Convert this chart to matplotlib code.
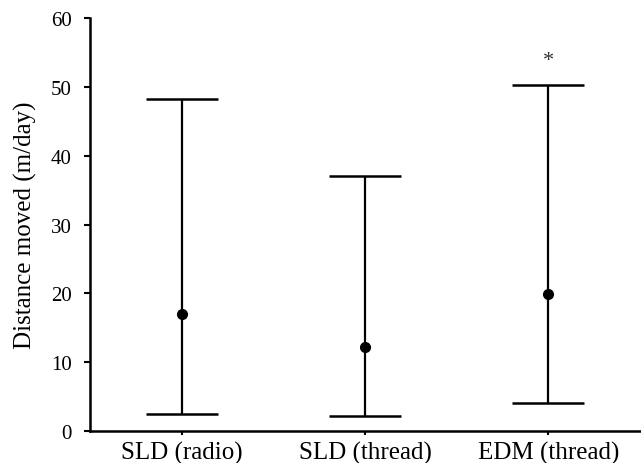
import matplotlib
matplotlib.use("Agg")
import matplotlib.pyplot as plt

# values
groups = ["SLD (radio)", "SLD (thread)", "EDM (thread)"]
means = [17.0, 12.2, 19.9]
lows = [2.4, 2.2, 4.0]
highs = [48.3, 37.1, 50.3]
marks = ["", "", "*"]
yticks = [0, 10, 20, 30, 40, 50, 60]

plt.rcParams['font.family'] = ['Liberation Serif', 'DejaVu Serif']

fig = plt.figure(figsize=(6.41, 4.64), dpi=100)
ax = fig.add_axes([0.1404, 0.069, 0.858, 0.89])

pos = list(range(1, len(groups) + 1))
err_lo = [m - l for m, l in zip(means, lows)]
err_hi = [h - m for m, h in zip(means, highs)]

ax.errorbar(pos, means, yerr=[err_lo, err_hi], fmt='o', color='black',
            ms=7, elinewidth=1.6, capsize=26, capthick=1.8)

for p, h, s in zip(pos, highs, marks):
    if s:
        ax.text(p, h + 3.6, s, ha='center', va='center', fontsize=16, color='#333333')

ax.set_xlim(0.5, 3.5)
ax.set_ylim(0, 60)
ax.set_yticks(yticks)
ax.set_xticks(pos)
ax.set_xticklabels(groups, fontsize=18)
ax.set_ylabel("Distance moved (m/day)", fontsize=18, labelpad=10)
ax.tick_params(axis='y', labelsize=15, width=1.5, length=4, pad=9)
ax.tick_params(axis='x', width=1.5, length=3, pad=4)

for side in ['top', 'right']:
    ax.spines[side].set_visible(False)
for side in ['left', 'bottom']:
    ax.spines[side].set_linewidth(1.8)

fig.savefig("out.png", dpi=100)
